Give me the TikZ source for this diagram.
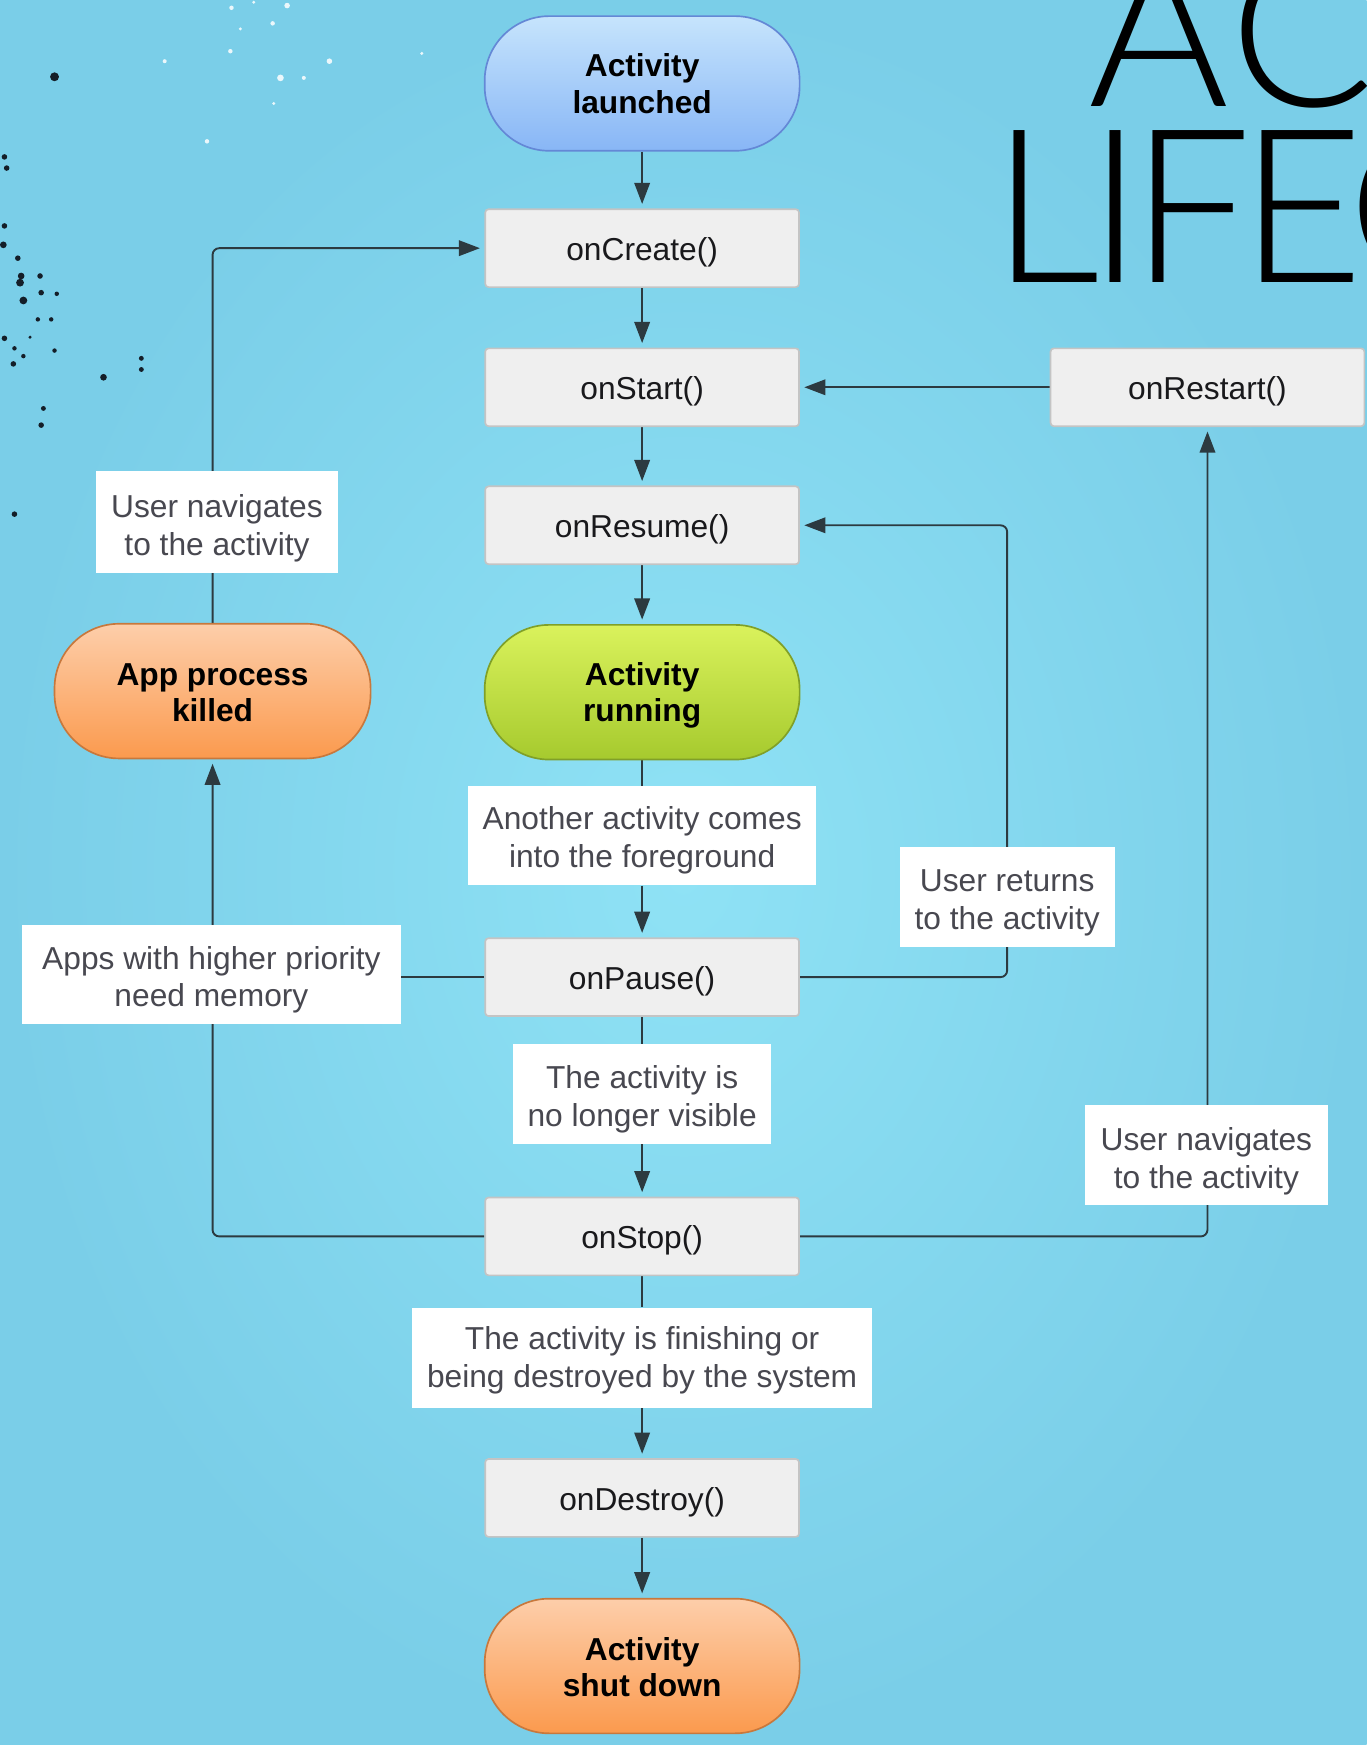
\documentclass[tikz,border=0pt]{standalone}
\usepackage{fontspec}
\setmainfont{Liberation Sans}
\IfFontExistsTF{Lato Light}{\newfontfamily\titlefont{Lato Light}}{\newfontfamily\titlefont{Liberation Sans}}
\usetikzlibrary{arrows.meta,calc}
\pgfdeclarelayer{bglayer}
\pgfdeclarelayer{edgelayer}
\pgfsetlayers{bglayer,edgelayer,main}
\newcommand\liftlab{\rule{0pt}{29.5pt}}
\newcommand\liftst[1]{\rule{0pt}{#1}}
\definecolor{linec}{RGB}{44,58,64}
\definecolor{boxfill}{RGB}{239,239,239}
\definecolor{boxline}{RGB}{196,196,196}
\definecolor{labtext}{RGB}{72,72,80}
\definecolor{methtext}{RGB}{25,25,28}
\definecolor{bluetop}{RGB}{198,228,252}
\definecolor{bluebot}{RGB}{136,182,246}
\definecolor{blueline}{RGB}{100,136,214}
\definecolor{greentop}{RGB}{218,242,92}
\definecolor{greenbot}{RGB}{166,202,46}
\definecolor{greenline}{RGB}{128,160,40}
\definecolor{orangetop}{RGB}{253,206,170}
\definecolor{orangebot}{RGB}{251,154,78}
\definecolor{orangeline}{RGB}{200,120,60}
\definecolor{bgin}{RGB}{143,226,245}
\definecolor{bgout}{RGB}{122,206,232}
\tikzset{
  basetxt/.style={font=\fontsize{28.5}{34}\selectfont, align=center, inner sep=0pt},
  method/.style={basetxt, draw=boxline, line width=1.5pt, fill=boxfill, rounded corners=3pt,
    minimum width=282pt, minimum height=70pt, text=methtext,
    execute at begin node={\rule{0pt}{28.5pt}}},
  lcstate/.style={basetxt, font=\fontsize{28.5}{33}\selectfont\bfseries, line width=1.5pt,
    rounded corners=58pt, minimum width=283pt, minimum height=121pt, text=black},
  bluestate/.style={lcstate, draw=blueline, top color=bluetop, bottom color=bluebot},
  greenstate/.style={lcstate, draw=greenline, top color=greentop, bottom color=greenbot},
  orangestate/.style={lcstate, draw=orangeline, top color=orangetop, bottom color=orangebot},
  lab/.style={basetxt, fill=white, text=labtext},
  arr/.style={draw=linec, line width=1.7pt, -{Triangle[length=19pt,width=14pt]}, shorten >=4pt},
  plain/.style={draw=linec, line width=1.7pt},
  darkdot/.style={fill={rgb,255:red,20;green,30;blue,40}},
  whitedot/.style={fill=white, opacity=0.85},
}
\begin{document}
\begin{tikzpicture}[x=1pt,y=-1pt]
\useasboundingbox (0,0) rectangle (1228,1568);
\begin{pgfonlayer}{bglayer}
\shade[inner color=bgin, outer color=bgout] (0,0) rectangle (1228,1568);
% spray dots
\foreach \x/\y/\r in {49/69/4,4/141/2.5,6/151/2.5,4/203/2.5,3/220/3,16/232/2.5,19/248/3,18/254/3.5,21/270/3.5,36/248/2.5,37/263/2.5,51/264/2,34/287/2,46/287/2,4/304/2.5,13/313/2,12/327/2.5,21/320/2,49/315/2,27/303/1.5,93/339/3,127/322/2.2,127/332/2.2,39/367/2.2,37/382/2.5,13/462/2.5}
  \fill[darkdot] (\x,\y) circle (\r);
\foreach \x/\y/\r in {208/7/2,258/5/2.5,245/21/2,216/26/1.5,148/55/1.8,207/46/2,252/70/3,296/55/2.5,273/70/1.8,186/127/2,379/48/1.5,228/2/1.5,246/93/1.5}
  \fill[whitedot] (\x,\y) circle (\r);
\end{pgfonlayer}
% title
\begin{scope}
\clip (0,0) rectangle (1228,1568);
\node[anchor=base west, inner sep=0pt, text depth=0pt, font=\titlefont\fontsize{193}{193}\selectfont\addfontfeature{LetterSpace=1.5}] (ttlA) at (978,96) {AC};
\node[anchor=base west, inner sep=0pt, text height=140pt, font=\titlefont\fontsize{193}{193}\selectfont\addfontfeature{LetterSpace=-6}] (ttlB) at (891,254) {LIFEC};
\end{scope}
% main column
\node[bluestate] (launched) at (577,75) {\liftst{21.5pt}Activity\\launched};
\node[method] (onCreate) at (577,223) {onCreate()};
\node[method] (onStart) at (577,348) {onStart()};
\node[method] (onResume) at (577,472) {onResume()};
\node[greenstate] (running) at (577,622) {\liftst{26.5pt}Activity\\running};
\node[lab, minimum width=313pt, minimum height=89pt] (lAnother) at (577,751) {\liftlab Another activity comes\\into the foreground};
\node[method] (onPause) at (577,878) {onPause()};
\node[lab, minimum width=232pt, minimum height=90pt] (lNoLonger) at (577,983) {\liftlab The activity is\\no longer visible};
\node[method] (onStop) at (577,1111) {onStop()};
\node[lab, minimum width=413pt, minimum height=90pt] (lFinishing) at (577,1220) {\liftst{26pt}The activity is finishing or\\being destroyed by the system};
\node[method] (onDestroy) at (577,1346) {onDestroy()};
\node[orangestate] (shutdown) at (577,1497) {\liftst{22.5pt}Activity\\shut down};
% left column
\node[orangestate, minimum width=284pt] (killed) at (191,621) {\liftst{22.5pt}App process\\killed};
\node[lab, minimum width=218pt, minimum height=91pt] (lUserNavL) at (195,469) {\liftst{31.5pt}User navigates\\to the activity};
\node[lab, minimum width=340pt, minimum height=89pt] (lApps) at (190,876) {\liftlab Apps with higher priority\\need memory};
% right column
\node[method] (onRestart) at (1085,348) {onRestart()};
\node[lab, minimum width=193pt, minimum height=90pt] (lReturns) at (905,806) {\liftst{30.5pt}User returns\\to the activity};
\node[lab, minimum width=218pt, minimum height=90pt] (lUserNavR) at (1084,1038) {\liftst{31pt}User navigates\\to the activity};
% connectors
\begin{pgfonlayer}{edgelayer}
\draw[arr] (launched.south) -- (onCreate.north);
\draw[arr] (onCreate.south) -- (onStart.north);
\draw[arr] (onStart.south) -- (onResume.north);
\draw[arr] (onResume.south) -- (running.north);
\draw[plain] (running.south) -- (lAnother.north);
\draw[arr] (lAnother.south) -- (onPause.north);
\draw[plain] (onPause.south) -- (lNoLonger.north);
\draw[arr] (lNoLonger.south) -- (onStop.north);
\draw[plain] (onStop.south) -- (lFinishing.north);
\draw[arr] (lFinishing.south) -- (onDestroy.north);
\draw[arr] (onDestroy.south) -- (shutdown.north);
\draw[arr] (onRestart.west) -- (onStart.east);
\draw[arr, rounded corners=6pt] (onPause.east) -- (onPause.east -| lReturns.north) -- (onResume.east -| lReturns.north) -- (onResume.east);
\draw[arr, rounded corners=6pt] (onStop.east) -- (onStop.east -| onRestart.south) -- (onRestart.south);
\draw[arr, rounded corners=6pt] (onStop.west) -- (onStop.west -| killed.south) -- (killed.south);
\draw[plain] (onPause.west) -- (onPause.west -| lApps.east);
\draw[arr, rounded corners=6pt] (killed.north) -- (killed.north |- onCreate.west) -- (onCreate.west);
\end{pgfonlayer}
\end{tikzpicture}
\end{document}
